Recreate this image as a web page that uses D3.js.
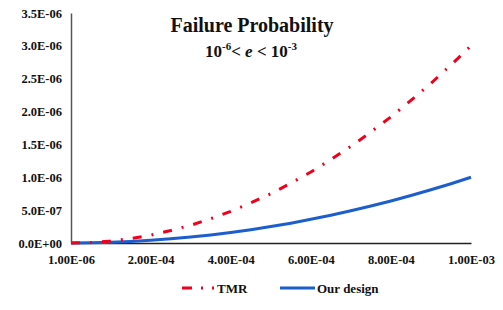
<!DOCTYPE html>
<html><head><meta charset="utf-8">
<script src="https://cdn.jsdelivr.net/npm/d3@7"></script>
<style>
body{margin:0;background:#fff;}
text{font-family:"Liberation Serif","Times New Roman",serif;font-weight:bold;fill:#111;}
</style></head>
<body><svg id="c" width="503" height="310"></svg>
<script>
// error rate e
const errorRates = [1e-6,5e-5,1e-4,1.5e-4,2e-4,2.5e-4,3e-4,3.5e-4,4e-4,4.5e-4,5e-4,5.5e-4,6e-4,6.5e-4,7e-4,7.5e-4,8e-4,8.5e-4,9e-4,9.5e-4,1e-3];
const tmrValues = [0,7.5e-9,3.0e-8,6.8e-8,1.2e-7,1.9e-7,2.7e-7,3.7e-7,4.8e-7,6.1e-7,7.5e-7,9.1e-7,1.08e-6,1.27e-6,1.47e-6,1.69e-6,1.92e-6,2.17e-6,2.43e-6,2.71e-6,3.0e-6];
const oursValues = [0,2.5e-9,1.0e-8,2.3e-8,4.0e-8,6.3e-8,9.0e-8,1.22e-7,1.6e-7,2.02e-7,2.5e-7,3.02e-7,3.6e-7,4.22e-7,4.9e-7,5.62e-7,6.4e-7,7.22e-7,8.1e-7,9.02e-7,1.0e-6];
const seriesNames = ["TMR","Our design"];
const xTickValues = [1e-6,2e-4,4e-4,6e-4,8e-4,1e-3];
const xTickLabels = ["1.00E-06","2.00E-04","4.00E-04","6.00E-04","8.00E-04","1.00E-03"];
const yTickValues = [0,5e-7,1e-6,1.5e-6,2e-6,2.5e-6,3e-6,3.5e-6];
const yTickLabels = ["0.0E+00","5.0E-07","1.0E-06","1.5E-06","2.0E-06","2.5E-06","3.0E-06","3.5E-06"];

const svg = d3.select("#c");
const x = d3.scaleLinear().domain([1e-6,1e-3]).range([71,471]);
const y = d3.scaleLinear().domain([0,3.5e-6]).range([243,13]);

// y axis
const yAxis = d3.axisLeft(y).tickValues(yTickValues).tickSize(0).tickPadding(9)
  .tickFormat((d,i)=>yTickLabels[i]);
const gy = svg.append("g").attr("transform","translate(71,0)").call(yAxis);
gy.select(".domain").attr("stroke","#555").attr("stroke-width",1.5);
gy.selectAll("text").style("font-size","12.5px").style("font-family","'Liberation Serif',serif").style("font-weight","bold").attr("fill","#111");

// x axis
const xAxis = d3.axisBottom(x).tickValues(xTickValues).tickSize(0).tickPadding(12)
  .tickFormat((d,i)=>xTickLabels[i]);
const gx = svg.append("g").attr("transform","translate(0,243)").call(xAxis);
gx.select(".domain").attr("stroke","#222").attr("stroke-width",1.5);
gx.selectAll("text").style("font-size","12.5px").style("font-family","'Liberation Serif',serif").style("font-weight","bold").attr("fill","#111");

const line = vals => d3.line().x((d,i)=>x(errorRates[i])).y(d=>y(d))(vals);

svg.append("path").attr("d",line(oursValues)).attr("fill","none")
  .attr("stroke","#1c5fcc").attr("stroke-width",3);
svg.append("path").attr("d",line(tmrValues)).attr("fill","none")
  .attr("stroke","#f0001c").attr("stroke-width",3).attr("stroke-dasharray","9,10,2,10");

// title
svg.append("text").attr("x",252).attr("y",32).attr("text-anchor","middle")
  .style("font-size","20px").text("Failure Probability");
const sub = svg.append("text").attr("x",251).attr("y",57).attr("text-anchor","middle").style("font-size","17px");
sub.append("tspan").text("10");
sub.append("tspan").attr("dy",-7).style("font-size","11px").text("-6");
sub.append("tspan").attr("dy",7).text("< ");
sub.append("tspan").style("font-style","italic").text("e");
sub.append("tspan").text(" < 10");
sub.append("tspan").attr("dy",-7).style("font-size","11px").text("-3");

// legend
const lg = svg.append("g");
lg.append("line").attr("x1",182).attr("x2",216).attr("y1",288).attr("y2",288)
  .attr("stroke","#f0001c").attr("stroke-width",3).attr("stroke-dasharray","10,9,2,9,2,9");
lg.append("text").attr("x",217).attr("y",293).style("font-size","13px").text(seriesNames[0]);
lg.append("line").attr("x1",280).attr("x2",315).attr("y1",288).attr("y2",288)
  .attr("stroke","#1c5fcc").attr("stroke-width",3);
lg.append("text").attr("x",317).attr("y",293).style("font-size","13px").text(seriesNames[1]);
</script></body></html>
